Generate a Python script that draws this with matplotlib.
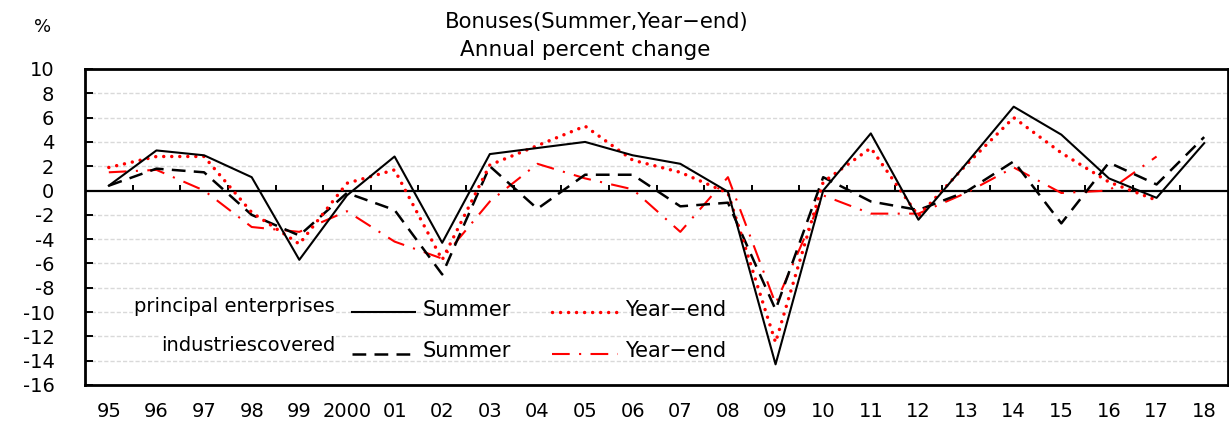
import numpy as np
import matplotlib
matplotlib.use("Agg")
import matplotlib.pyplot as plt
from matplotlib.lines import Line2D

years = ['95', '96', '97', '98', '99', '2000', '01', '02', '03', '04', '05', '06',
         '07', '08', '09', '10', '11', '12', '13', '14', '15', '16', '17', '18']
nan = np.nan
pe_summer = [0.4, 3.3, 2.9, 1.1, -5.7, -0.4, 2.8, -4.3, 3.0, 3.5, 4.0, 2.9,
             2.2, -0.1, -14.3, 0.0, 4.7, -2.4, 2.2, 6.9, 4.6, 1.0, -0.6, 3.9]
pe_yearend = [1.9, 2.8, 2.8, -1.8, -4.4, 0.6, 1.7, -5.7, 2.1, 3.7, 5.3, 2.5,
              1.5, -0.2, -12.5, 0.7, 3.5, -2.1, 2.1, 6.0, 3.1, 0.7, -0.8, nan]
ic_summer = [0.4, 1.8, 1.5, -2.0, -3.7, -0.2, -1.6, -6.9, 2.0, -1.5, 1.3, 1.3,
             -1.3, -1.0, -9.8, 1.1, -0.9, -1.6, -0.1, 2.4, -2.7, 2.3, 0.5, 4.4]
ic_yearend = [1.5, 1.7, 0.0, -3.0, -3.4, -1.7, -4.2, -5.6, -0.9, 2.2, 1.0, 0.1,
              -3.4, 1.1, -9.3, -0.4, -1.9, -1.9, -0.2, 1.9, -0.2, 0.0, 2.8, nan]
yticks = list(range(-16, 11, 2))

plt.rcParams['font.family'] = ['DejaVu Sans']

W, H = 1229, 425
fig = plt.figure(figsize=(W / 100, H / 100), dpi=100)
ax = fig.add_axes([85 / W, (H - 385) / H, 1143 / W, 316 / H])

x = np.arange(len(years))

DOT = (0, (0.01, 2.3))
DASH = (0, (5.5, 3.3))
DASHDOT = (0, (8.5, 4.5, 1, 4.5))

# grid
for yv in yticks:
    if yv not in (-16, 0, 10):
        ax.axhline(yv, color='#d9d9d9', lw=1.0, ls=(0, (3, 1.5)), zorder=0)
ax.axhline(0, color='black', lw=1.6, zorder=1)
# category boundary ticks on zero line
ax.vlines(np.arange(0.5, len(years) - 1), 0, 0.45, color='black', lw=1.4, zorder=1)

ax.plot(x, pe_summer, color='black', lw=1.5, zorder=5)
ax.plot(x, pe_yearend, color='red', lw=2.5, ls=DOT, dash_capstyle='round', zorder=4)
ax.plot(x, ic_summer, color='black', lw=1.8, ls=DASH, zorder=3)
ax.plot(x, ic_yearend, color='red', lw=1.5, ls=DASHDOT, zorder=2)

ax.set_xlim(-0.5, len(years) - 0.5)
ax.set_ylim(-16, 10)
ax.set_yticks(yticks)
ax.set_yticklabels([str(v) for v in yticks])
ax.tick_params(axis='y', direction='in', length=6, width=1.4, pad=22, labelsize=14)
ax.set_xticks(x)
ax.set_xticklabels(years)
ax.tick_params(axis='x', length=0, pad=12, labelsize=14)
for s in ax.spines.values():
    s.set_linewidth(2.0)

# custom legend
tr = ax.transAxes
lab_kw = dict(transform=tr, fontsize=14, va='center', ha='right',
              bbox=dict(facecolor='white', edgecolor='none', pad=1), zorder=6)
ax.text(0.2187, 0.250, 'principal enterprises', **lab_kw)
ax.text(0.2187, 0.125, 'industriescovered', **lab_kw)
ser_kw = dict(transform=tr, fontsize=15, va='center', ha='left', zorder=6)
ax.text(0.2957, 0.236, 'Summer', **ser_kw)
ax.text(0.4724, 0.236, 'Year\u2212end', **ser_kw)
ax.text(0.2957, 0.108, 'Summer', **ser_kw)
ax.text(0.4724, 0.108, 'Year\u2212end', **ser_kw)
ax.add_line(Line2D([0.2336, 0.2887], [0.232, 0.232], transform=tr, color='black', lw=1.5, zorder=6))
ax.add_line(Line2D([0.4086, 0.4663], [0.232, 0.232], transform=tr, color='red', lw=2.5,
                   ls=DOT, dash_capstyle='round', zorder=6))
ax.add_line(Line2D([0.2336, 0.2887], [0.098, 0.098], transform=tr, color='black', lw=1.8,
                   ls=DASH, zorder=6))
ax.add_line(Line2D([0.4086, 0.4663], [0.098, 0.098], transform=tr, color='red', lw=1.5,
                   ls=DASHDOT, zorder=6))

fig.text(597 / W, 1 - 22 / H, 'Bonuses(Summer,Year\u2212end)', ha='center', va='center', fontsize=15.2)
fig.text(585 / W, 1 - 50 / H, 'Annual percent change', ha='center', va='center', fontsize=15.5)
fig.text(43 / W, 1 - 27 / H, '%', ha='center', va='center', fontsize=13)

fig.savefig('out.png', dpi=100)
